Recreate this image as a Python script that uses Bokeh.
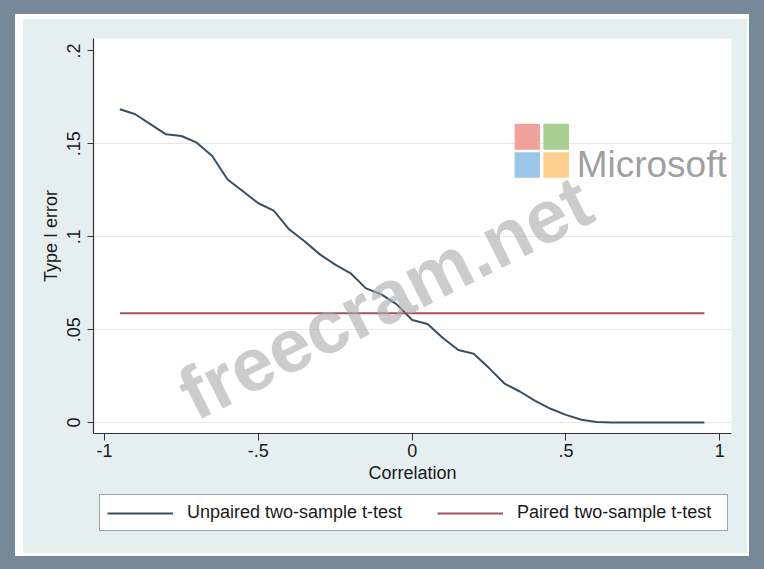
from bokeh.plotting import figure
from bokeh.layouts import column
from bokeh.models import (Range1d, FixedTicker, Legend, LegendItem, BoxAnnotation, Label,
                          GlobalInlineStyleSheet)
from bokeh.embed import file_html
from bokeh.resources import INLINE

# ---------------- data ----------------
correlation = [-0.95, -0.90, -0.85, -0.80, -0.75, -0.70, -0.65, -0.60, -0.55, -0.50,
               -0.45, -0.40, -0.35, -0.30, -0.25, -0.20, -0.15, -0.10, -0.05, 0.00,
               0.05, 0.10, 0.15, 0.20, 0.25, 0.30, 0.35, 0.40, 0.45, 0.50,
               0.55, 0.60, 0.65, 0.70, 0.75, 0.80, 0.85, 0.90, 0.95]
unpaired = [0.1686, 0.1659, 0.1605, 0.1551, 0.1542, 0.1506, 0.1434, 0.1308, 0.1245, 0.1180,
            0.1140, 0.1040, 0.0976, 0.0905, 0.0850, 0.0803, 0.0722, 0.0690, 0.0636, 0.0552,
            0.0530, 0.0455, 0.0390, 0.0370, 0.0293, 0.0210, 0.0167, 0.0117, 0.0074, 0.0041,
            0.0015, 0.0003, 0.0, 0.0, 0.0, 0.0, 0.0, 0.0, 0.0]
paired = [0.0588] * 39

series_labels = ["Unpaired two-sample t-test", "Paired two-sample t-test"]
x_ticks = [-1, -0.5, 0, 0.5, 1]
x_tick_labels = ["-1", "-.5", "0", ".5", "1"]
y_ticks = [0, 0.05, 0.1, 0.15, 0.2]
y_tick_labels = ["0", ".05", ".1", ".15", ".2"]
y_grid_ticks = [0, 0.05, 0.1, 0.15]
x_title = "Correlation"
y_title = "Type I error"
watermark_text = "freecram.net"
logo_text = "Microsoft"

# ---------------- styles ----------------
FONT = "Liberation Sans"
TXT = "#1a1a1a"
SLATE = "#778899"
LIGHT = "#e6eff0"
NAVY = "#3b4f61"
MAROON = "#a3535e"

p = figure(frame_width=638, frame_height=395, output_backend="svg", toolbar_location=None,
           x_range=Range1d(-1.0358, 1.038), y_range=Range1d(-0.0059, 0.20667),
           min_border_left=70, min_border_right=16, min_border_top=19, min_border_bottom=60)
p.border_fill_color = LIGHT
p.background_fill_color = "white"
p.outline_line_color = None

r1 = p.line(correlation, unpaired, line_color=NAVY, line_width=2)
r2 = p.line(correlation, paired, line_color=MAROON, line_width=1.8)

# axes
for ax in (p.xaxis[0], p.yaxis[0]):
    ax.axis_line_color = "#333333"
    ax.axis_line_width = 1.2
    ax.major_tick_line_color = "#333333"
    ax.major_tick_in = 0
    ax.minor_tick_line_color = None
    ax.major_label_text_font = FONT
    ax.major_label_text_font_size = "18px"
    ax.major_label_text_color = TXT
    ax.axis_label_text_font = FONT
    ax.axis_label_text_font_size = "18px"
    ax.axis_label_text_font_style = "normal"
    ax.axis_label_text_color = TXT

p.xaxis.ticker = FixedTicker(ticks=x_ticks)
p.xaxis.major_label_overrides = dict(zip(x_ticks, x_tick_labels))
p.xaxis.major_tick_out = 7
p.xaxis.major_label_standoff = 3
p.xaxis.axis_label = x_title
p.xaxis.axis_label_standoff = 3

p.yaxis.ticker = FixedTicker(ticks=y_ticks)
p.yaxis.major_label_overrides = dict(zip(y_ticks, y_tick_labels))
p.yaxis.major_label_orientation = "vertical"
p.yaxis.major_tick_out = 6
p.yaxis.major_label_standoff = 7
p.yaxis.axis_label = y_title
p.yaxis.axis_label_standoff = 4

p.xgrid.grid_line_color = None
p.ygrid.ticker = FixedTicker(ticks=y_grid_ticks)
p.ygrid.grid_line_color = "#e8e8e8"
p.ygrid.grid_line_width = 1.2

# watermark
p.add_layout(Label(x=-0.088, y=0.0673, text=watermark_text, angle=26.7, angle_units="deg",
                   text_align="center", text_baseline="alphabetic",
                   text_font=FONT, text_font_size="75px", text_font_style="bold",
                   text_color="#aaaaaa", text_alpha=0.6))
logo = [(0.3332, 0.4154, 0.16076, 0.14677, "#f1a39b"), (0.4265, 0.5097, 0.16076, 0.14677, "#a8cf90"),
        (0.3332, 0.4154, 0.14548, 0.1317, "#9dc5e8"), (0.4265, 0.5097, 0.14548, 0.1317, "#fccf8e")]
for l, r, t, b, c in logo:
    p.add_layout(BoxAnnotation(left=l, right=r, top=t, bottom=b,
                               fill_color=c, fill_alpha=1, line_color=None))
p.add_layout(Label(x=0.5347, y=0.1389, text=logo_text, text_align="left",
                   text_baseline="alphabetic", text_font=FONT, text_font_size="37px",
                   text_color="#9a9a9a", text_alpha=0.95))

# ---------------- legend strip (same series, kept out of its view range) ----------------
lf = figure(width=724, height=60, output_backend="svg", toolbar_location=None,
            x_range=Range1d(5, 6), y_range=Range1d(5, 6),
            x_axis_location=None, y_axis_location=None,
            min_border_left=0, min_border_right=0, min_border_top=0, min_border_bottom=0)
lf.border_fill_color = LIGHT
lf.background_fill_color = LIGHT
lf.outline_line_color = None
lf.grid.grid_line_color = None
k1 = lf.line(correlation, unpaired, line_color=NAVY, line_width=2)
k2 = lf.line(correlation, paired, line_color=MAROON, line_width=1.8)
legend = Legend(items=[LegendItem(label=series_labels[0], renderers=[k1]),
                       LegendItem(label=series_labels[1], renderers=[k2])],
                location=(6, 22), orientation="horizontal",
                padding=7, spacing=35, glyph_width=66, label_standoff=14, label_width=203,
                label_text_font=FONT, label_text_font_size="18px", label_text_color=TXT,
                border_line_color="#444444", border_line_width=1.5,
                background_fill_color="white", background_fill_alpha=1, margin=0)
lf.add_layout(legend, "center")

layout = column(p, lf, spacing=0)
layout.styles = {"background-color": LIGHT,
                 "box-shadow": "-8px -5px 0 0 white, 2px -5px 0 0 white, "
                               "-8px 3px 0 0 white, 2px 3px 0 0 white"}
layout.stylesheets = [GlobalInlineStyleSheet(
    css="html, body { background-color: %s !important; } "
        "body { padding: 19px 0 0 23px !important; }" % SLATE)]

open("out.html", "w").write(file_html(layout, INLINE))
